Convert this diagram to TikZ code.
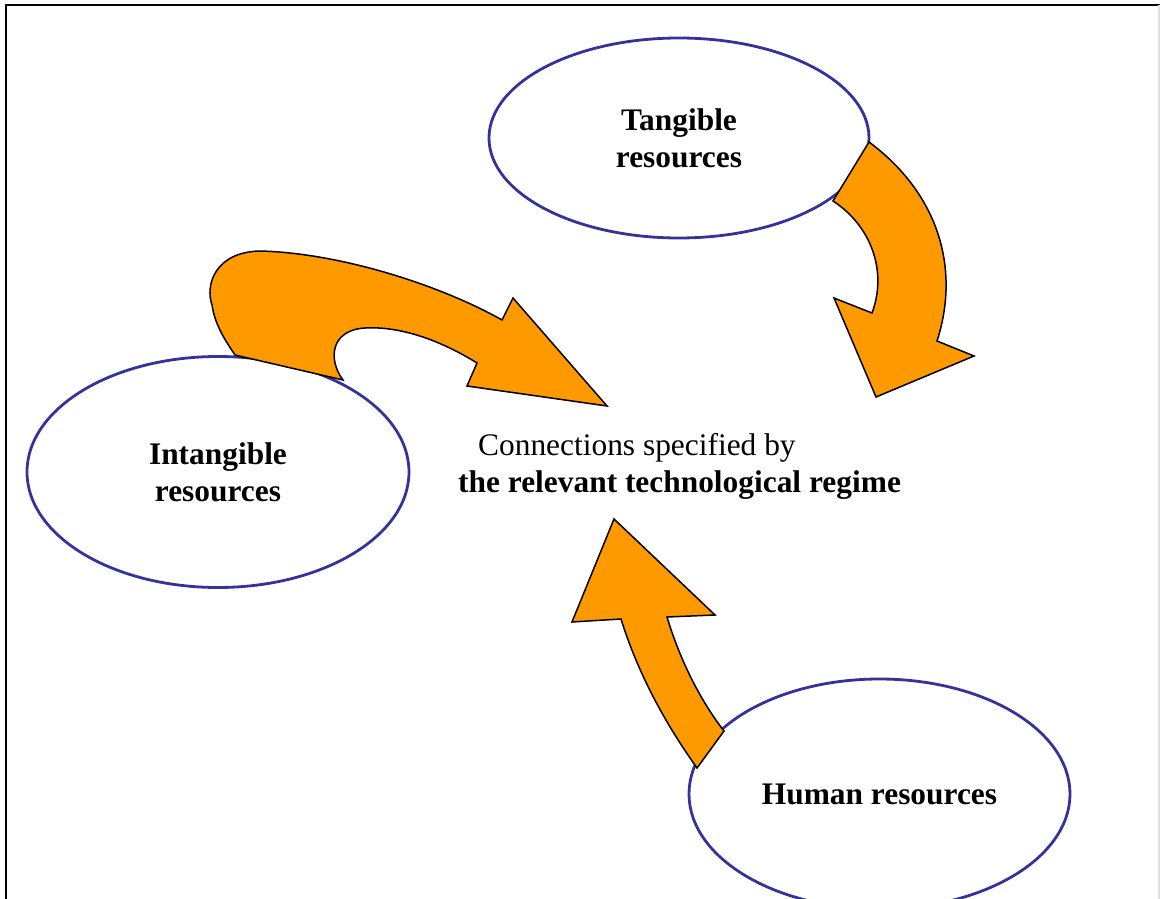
\documentclass[tikz,border=0pt]{standalone}
\usepackage{fontspec}
\setmainfont{Liberation Serif}
\usetikzlibrary{shapes.geometric}
\definecolor{ringblue}{HTML}{333399}
\definecolor{arroworange}{HTML}{FF9900}
\tikzset{
  resource/.style={ellipse, draw=ringblue, line width=2.8pt, fill=white,
    inner sep=0pt, align=center, font=\fontsize{31.4}{37}\selectfont\bfseries},
  blockarrow/.style={fill=arroworange, draw=black, line width=1.5pt, line join=miter},
  caption/.style={inner sep=0pt, anchor=base west, font=\fontsize{31.4}{37}\selectfont}
}
\begin{document}
\begin{tikzpicture}[x=1pt, y=-1pt]
\useasboundingbox (0,0) rectangle (1160,899);
% page frame
\draw[black, line width=2pt] (6,899) -- (6,5) -- (1160,5);
\draw[black!12, line width=1.5pt] (1159,5) -- (1159,899);

% resource ellipses
\node[resource, minimum width=380pt, minimum height=200pt] (tangible) at (679,138) {Tangible\\resources};
\node[resource, minimum width=382pt, minimum height=231pt] (intangible) at (218,472) {Intangible\\resources};
\node[resource, minimum width=381pt, minimum height=230pt] (human) at (879.5,794) {Human resources};

% central caption
\node[caption] (conn) at (478,455) {Connections specified by};
\node[caption, font=\fontsize{31.4}{37}\selectfont\bfseries] (regime) at (458,492) {the relevant technological regime};

% curved arrow from the intangible resources
\draw[blockarrow] (235,355) -- (343,380)
  .. controls (328,360) and (330,330) .. (365,328)
  .. controls (400,326) and (440,340) .. (477,363)
  -- (467,386) -- (607,406) -- (513,298) -- (502,320)
  .. controls (440,285) and (340,253) .. (260,251)
  .. controls (215,252) and (205,285) .. (212,305)
  .. controls (215,325) and (225,340) .. cycle;

% curved arrow from the tangible resources
\draw[blockarrow] (869,142) -- (833,201)
  .. controls (870,225) and (888,270) .. (872,313)
  -- (834,298) -- (876,397) -- (974,356) -- (937,341)
  .. controls (960,270) and (940,195) .. cycle;

% curved arrow from the human resources
\draw[blockarrow] (614,519) -- (715,615) -- (667,617)
  .. controls (680,660) and (700,700) .. (724,731)
  -- (697,768)
  .. controls (670,730) and (640,680) .. (621,619)
  -- (572,622) -- cycle;
\end{tikzpicture}
\end{document}
